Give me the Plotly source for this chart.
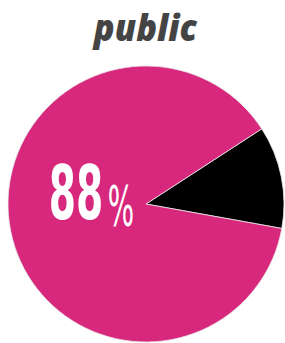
import plotly.graph_objects as go

labels = ["other", "public"]
values = [12, 88]
colors = ["#000000", "#d8287e"]
title_text = "public"
pct_number = "88"
pct_sign = "%"

fig = go.Figure(go.Pie(
    labels=labels, values=values, sort=False, direction="clockwise", rotation=57,
    marker=dict(colors=colors, line=dict(color="#e8e8e8", width=0.8)),
    textinfo="none", hoverinfo="label+percent", showlegend=False,
))

fig.update_layout(
    width=285, height=343,
    margin=dict(l=8, r=1, t=66, b=1),
    paper_bgcolor="white", plot_bgcolor="white",
    title=dict(text=title_text, x=0.51, xanchor="center",
               y=1 - 28 / 343, yanchor="middle", yref="container",
               font=dict(family="Open Sans", size=37, color="#444444", weight=800, style="italic")),
    annotations=[
        dict(text=pct_number, xref="paper", yref="paper", x=(76 - 8) / 276, y=(342 - 193) / 276,
             xanchor="center", yanchor="middle", showarrow=False,
             font=dict(family="DejaVu Sans Condensed", size=75, color="white", weight="bold")),
        dict(text=pct_sign, xref="paper", yref="paper", x=(121 - 8) / 276, y=(342 - 205) / 276,
             xanchor="center", yanchor="middle", showarrow=False,
             font=dict(family="DejaVu Sans Condensed", size=56, color="white")),
    ],
)

post = """
document.body.style.margin='0';document.body.style.padding='0';
var ts = document.querySelectorAll('.annotation-text');
var sx = [0.58, 0.55];
ts.forEach(function(t, i){
  t.style.transformBox='fill-box';
  t.style.transformOrigin='center';
  t.style.transform='scaleX(' + (sx[i] || 1) + ')';
});
var tt = document.querySelector('.gtitle');
if (tt) { tt.style.transformBox='fill-box'; tt.style.transformOrigin='center'; tt.style.transform='scaleX(0.93)'; }
"""

fig.write_html("out.html", post_script=post, config={"displayModeBar": False})
